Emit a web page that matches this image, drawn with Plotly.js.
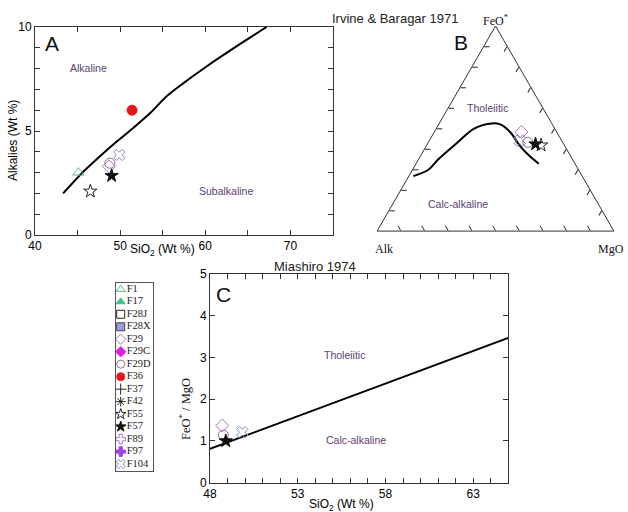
<!DOCTYPE html>
<html><head><meta charset="utf-8">
<script src="https://cdn.plot.ly/plotly-3.0.1.min.js"></script>
<style>html,body{margin:0;padding:0;background:#fff;} #chart{width:628px;height:512px;}</style>
</head><body><div id="chart"></div>
<script>
// ---- samples (legend) ----
const sampleNames   = ['F1','F17','F28J','F28X','F29','F29C','F29D','F36','F37','F42','F55','F57','F89','F97','F104'];
const sampleSymbols = ['triangle-up-open','triangle-up','square-open','square','diamond-open','diamond','circle-open','circle','cross-thin-open','asterisk-open','star-open','star','cross-open','cross','x-open'];
const sampleColors  = ['#5db58e','#3cc08c','#222222','#9b9be6','#a275d2','#e21ee6','#a06a8c','#e8141c','#222222','#222222','#222222','#111111','#a27ae0','#a43fe6','#8585c2'];
const sampleOutline = ['#5db58e','#3cc08c','#222222','#444444','#a275d2','#e21ee6','#a06a8c','#e8141c','#222222','#222222','#222222','#111111','#a27ae0','#a43fe6','#8585c2'];

// ---- Panel A: Alkalies vs SiO2 (Irvine & Baragar 1971) ----
const tasSamples  = ['F1','F55','F29','F29D','F57','F104','F36'];
const tasSiO2     = [45.1, 46.5, 48.7, 48.8, 49.0, 49.9, 51.4];
const tasAlkalies = [3.0, 2.1, 3.3, 3.45, 2.85, 3.85, 6.0];
const tasBoundarySiO2 = [43.3, 45.5, 47.6, 49.6, 51.5, 53.5, 55.4, 57.4, 60.1, 63.3, 67.2];
const tasBoundaryAlk  = [2.0, 2.97, 3.77, 4.49, 5.13, 5.85, 6.65, 7.29, 8.09, 8.97, 10.0];

// ---- Panel B: AFM ternary ----
const afmSamples = ['F29','F104','F29D','F57','F55'];
const afmFeO = [48.3, 44.1, 43.3, 42.4, 41.9];
const afmAlk = [14.9, 17.7, 14.7, 11.9, 9.8];
const afmMgO = [36.8, 38.2, 42.0, 45.7, 48.3];
const afmBoundaryFeO = [26.8, 29.9, 34.9, 43.3, 50.0, 52.5, 52.0, 48.3, 41.6, 36.6, 32.9];
const afmBoundaryAlk = [71.3, 63.4, 56.8, 44.3, 34.0, 25.2, 22.0, 19.7, 18.9, 17.3, 15.3];
const afmBoundaryMgO = [1.9, 6.7, 8.3, 12.4, 16.0, 22.3, 26.0, 32.0, 39.5, 46.1, 51.8];

// ---- Panel C: FeO*/MgO vs SiO2 (Miyashiro 1974) ----
const fmSamples = ['F29','F29D','F57','F104'];
const fmSiO2  = [48.7, 48.76, 48.9, 49.84];
const fmRatio = [1.37, 1.14, 1.0, 1.21];
const fmBoundarySiO2  = [48, 65];
const fmBoundaryRatio = [0.81, 3.47];

// tick labels
const tasXTicks = [40,45,50,55,60,65,70,75];
const tasXLabels = ['40','','50','','60','','70',''];
const tasYTicks = [0,1,2,3,4,5,6,7,8,9,10];
const tasYLabels = ['0','','','','','5','','','','','10'];
const fmXTicks = [48,49,50,51,52,53,54,55,56,57,58,59,60,61,62,63,64,65];
const fmXLabels = fmXTicks.map(v => ([48,53,58,63].includes(v) ? String(v) : ''));
const fmYTicks = [0,1,2,3,4,5];
const afmTicks = [10,20,30,40,50,60,70,80,90];

const W = 628, H = 512;
const px = x => x / W;
const py = y => 1 - y / H;
const idx = n => sampleNames.indexOf(n);
const sym = arr => arr.map(n => sampleSymbols[idx(n)]);
const col = arr => arr.map(n => sampleColors[idx(n)]);
const out = arr => arr.map(n => sampleOutline[idx(n)]);

const SANS = 'Liberation Sans, Arial, sans-serif';
const SERIF = 'Liberation Serif, Times New Roman, serif';
const REG = '#5a4070';

const traces = [
  {type:'scatter', mode:'lines', x:tasBoundarySiO2, y:tasBoundaryAlk, xaxis:'x', yaxis:'y',
   line:{color:'#000', width:2, shape:'spline', smoothing:0.8}, showlegend:false, hoverinfo:'skip'},
  {type:'scatter', mode:'markers', x:tasSiO2, y:tasAlkalies, xaxis:'x', yaxis:'y', text:tasSamples,
   marker:{symbol:sym(tasSamples), color:col(tasSamples), size:10, line:{width:1, color:out(tasSamples)}}, showlegend:false},
  {type:'scatterternary', mode:'lines', a:afmBoundaryFeO, b:afmBoundaryAlk, c:afmBoundaryMgO,
   line:{color:'#000', width:2, shape:'spline'}, showlegend:false, hoverinfo:'skip'},
  {type:'scatterternary', mode:'markers', a:afmFeO, b:afmAlk, c:afmMgO, text:afmSamples,
   marker:{symbol:sym(afmSamples), color:col(afmSamples), size:10, line:{width:1, color:out(afmSamples)}}, showlegend:false},
  {type:'scatter', mode:'lines', x:fmBoundarySiO2, y:fmBoundaryRatio, xaxis:'x2', yaxis:'y2',
   line:{color:'#000', width:2}, showlegend:false, hoverinfo:'skip'},
  {type:'scatter', mode:'markers', x:fmSiO2, y:fmRatio, xaxis:'x2', yaxis:'y2', text:fmSamples,
   marker:{symbol:sym(fmSamples), color:col(fmSamples), size:10, line:{width:1, color:out(fmSamples)}}, showlegend:false},
  // custom legend box
  {type:'scatter', mode:'markers+text', x:sampleNames.map(() => 4.7), y:sampleNames.map((_, i) => i),
   xaxis:'x3', yaxis:'y3', text:sampleNames, textposition:'middle right', cliponaxis:false,
   textfont:{family:SERIF, size:10.5, color:'#222'},
   marker:{symbol:sampleSymbols, color:sampleColors, size:8, line:{width:1, color:sampleOutline}}, showlegend:false}
];

const axBase = () => ({showline:true, mirror:'ticks', linecolor:'#333', linewidth:1, ticks:'inside', ticklen:5,
  tickcolor:'#333', tickwidth:1, showgrid:false, zeroline:false,
  tickfont:{family:SANS, size:12, color:'#000'}});

function ann(text, x, y, size, color, family, extra) {
  return Object.assign({text:text, x:px(x), y:py(y), xref:'paper', yref:'paper', showarrow:false,
    xanchor:'center', yanchor:'middle', font:{family:family || SANS, size:size, color:color}}, extra || {});
}

const annotations = [
  ann('Irvine &amp; Baragar 1971', 395, 18, 13, '#222'),
  ann('Miashiro 1974', 315, 266, 13, '#222'),
  ann('A', 52, 43, 21, '#111'),
  ann('B', 461, 42, 21, '#111'),
  ann('C', 224, 294, 21, '#111'),
  ann('Alkaline', 88, 68, 10.5, REG),
  ann('Subalkaline', 226, 191, 10.5, REG),
  ann('Tholeiitic', 487, 108, 10.5, REG),
  ann('Calc-alkaline', 458, 204, 10.5, REG),
  ann('Tholeiitic', 344, 355, 10.5, REG),
  ann('Calc-alkaline', 356, 440, 10.5, REG),
  ann('Alkalies (Wt %)', 13, 141, 12, '#000', SANS, {textangle:-90}),
  ann('SiO<sub>2</sub> (Wt %)', 162, 250, 12, '#000'),
  ann('SiO<sub>2</sub> (Wt %)', 341, 505, 12, '#000'),
  ann('FeO<sup>*</sup> / MgO', 185, 409, 12.5, '#111', SERIF, {textangle:-90}),
  ann('FeO<sup>*</sup>', 495, 20, 12, '#111', SERIF),
  ann('Alk', 384, 249, 12, '#111', SERIF),
  ann('MgO', 611, 249, 12, '#111', SERIF)
];

const ternAxis = () => ({title:{text:''}, showticklabels:false, tickmode:'array', tickvals:afmTicks,
  ticks:'inside', ticklen:5.5, showgrid:false, linecolor:'#333', linewidth:1,
  tickcolor:'#222', tickwidth:1});

const layout = {
  width:W, height:H, margin:{l:0, r:0, t:0, b:0},
  paper_bgcolor:'#fff', plot_bgcolor:'#fff', showlegend:false,
  xaxis: Object.assign(axBase(), {domain:[px(35), px(333)], range:[40,75], anchor:'y',
    tickmode:'array', tickvals:tasXTicks, ticktext:tasXLabels}),
  yaxis: Object.assign(axBase(), {domain:[py(235), py(27)], range:[0,10], anchor:'x',
    tickmode:'array', tickvals:tasYTicks, ticktext:tasYLabels}),
  xaxis2: Object.assign(axBase(), {domain:[px(210), px(508.3)], range:[48,65], anchor:'y2',
    tickmode:'array', tickvals:fmXTicks, ticktext:fmXLabels}),
  yaxis2: Object.assign(axBase(), {domain:[py(482.7), py(274)], range:[0,5], anchor:'x2',
    tickmode:'array', tickvals:fmYTicks}),
  xaxis3: {domain:[px(116), px(153.3)], range:[0,37.3], anchor:'y3', showline:true, mirror:true,
    linecolor:'#555', linewidth:1, ticks:'', showticklabels:false, showgrid:false, zeroline:false},
  yaxis3: {domain:[py(470.7), py(282.7)], range:[14.53,-0.53], anchor:'x3', showline:true, mirror:true,
    linecolor:'#555', linewidth:1, ticks:'', showticklabels:false, showgrid:false, zeroline:false},
  ternary: {
    domain:{x:[px(377), px(614)], y:[py(231.1), py(26)]},
    sum:100, bgcolor:'#fff',
    aaxis: ternAxis(), baxis: ternAxis(), caxis: ternAxis()
  },
  annotations: annotations
};

Plotly.newPlot('chart', traces, layout, {displayModeBar:false, staticPlot:true});
</script></body></html>
